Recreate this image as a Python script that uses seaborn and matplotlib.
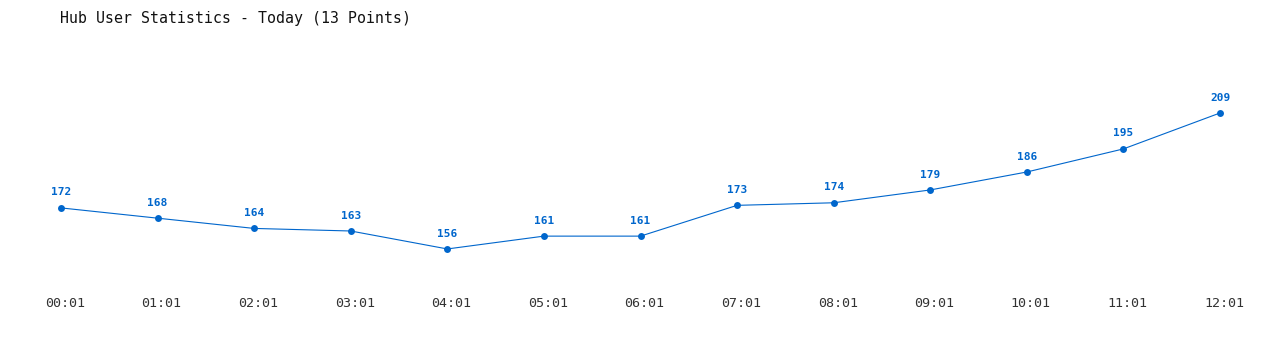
import matplotlib
matplotlib.use("Agg")
import matplotlib.pyplot as plt
import matplotlib.transforms as mtransforms
import seaborn as sns
import pandas as pd

times = ["00:01", "01:01", "02:01", "03:01", "04:01", "05:01", "06:01",
         "07:01", "08:01", "09:01", "10:01", "11:01", "12:01"]
users = [172, 168, 164, 163, 156, 161, 161, 173, 174, 179, 186, 195, 209]
title = "Hub User Statistics - Today (13 Points)"

sns.set_theme(style="white")
plt.rcParams['font.family'] = ['DejaVu Sans Mono', 'DejaVu Sans']

df = pd.DataFrame({"idx": range(len(times)), "users": users})
color = "#0066cc"

W, H = 1280, 350
fig = plt.figure(figsize=(W / 100, H / 100), dpi=100)
ax = fig.add_axes([40 / W, 60 / H, 1200 / W, 250 / H])
sns.lineplot(data=df, x="idx", y="users", ax=ax, color=color, linewidth=0.8,
             marker="o", markersize=5, markeredgewidth=0, clip_on=False)
for i, v in enumerate(users):
    ax.annotate(str(v), (i, v), xytext=(0, 7.5), textcoords="offset points",
                ha="center", va="bottom", fontsize=8, fontweight="bold",
                color=color)

ax.set_xlim(-0.2174, 12.207)
ax.set_ylim(140.0, 237.45)
ax.set_xticks(range(len(times)))
ax.set_xticklabels(times, fontsize=9.6, color="#333333")
ax.set_yticks([])
ax.tick_params(axis="x", length=0, pad=5)
offset = mtransforms.ScaledTranslation(4 / 100, 0, fig.dpi_scale_trans)
for lbl in ax.get_xticklabels():
    lbl.set_transform(lbl.get_transform() + offset)
ax.set_xlabel("")
ax.set_ylabel("")
for s in ax.spines.values():
    s.set_visible(False)

fig.text(60 / W, 1 - 18 / H, title, fontsize=10.7, color="#111111",
         ha="left", va="center")

fig.savefig("out.png", dpi=100, facecolor="white")
